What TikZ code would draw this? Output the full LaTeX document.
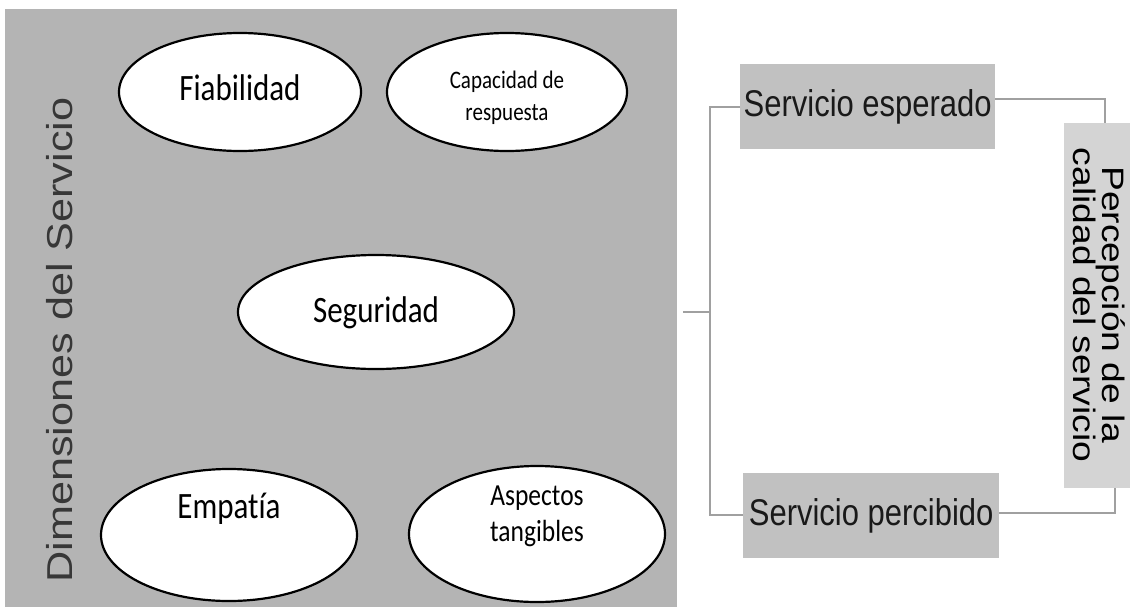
\documentclass[tikz,border=0pt]{standalone}
\usepackage{fontspec}
\setmainfont{Liberation Sans}
\newfontfamily\calfont[Ligatures=CommonOff]{Carlito}
\usetikzlibrary{shapes.geometric}
\definecolor{panelgray}{RGB}{180,180,180}
\definecolor{boxgray}{RGB}{193,193,193}
\definecolor{lightbox}{RGB}{212,212,212}
\definecolor{linegray}{RGB}{160,160,160}
\definecolor{dimtext}{RGB}{55,55,55}
\newcommand{\vstretch}[1]{\scalebox{1}[1.2]{#1}}
\newcommand{\hstretch}[1]{\scalebox{1.2}[1]{#1}}
\tikzset{
  dimell/.style={ellipse, draw=black, line width=2.2pt, fill=white, inner sep=0pt},
  elltext/.style={font=\calfont, align=center, inner sep=0pt},
  servbox/.style={rectangle, fill=boxgray, inner sep=0pt, font=\fontsize{31}{31}\selectfont, text=black!90},
  conn/.style={draw=linegray, line width=1.8pt},
}
\begin{document}
\begin{tikzpicture}[x=1pt,y=-1pt]
\useasboundingbox (0,0) rectangle (1130,611);
\fill[white] (0,0) rectangle (1130,611);
% panel
\node[fill=panelgray, minimum width=672pt, minimum height=598pt, inner sep=0pt, anchor=north west] (panel) at (5,9) {};
\node[rotate=90, text=dimtext, font=\fontsize{36}{36}\selectfont] (dimlabel) at (60,340) {\hstretch{Dimensiones del Servicio}};
% ellipses
\node[dimell, minimum width=242pt, minimum height=118pt] (fia) at (240,92) {};
\node[dimell, minimum width=240pt, minimum height=118pt] (cap) at (507,92) {};
\node[dimell, minimum width=276pt, minimum height=114pt] (seg) at (376,312) {};
\node[dimell, minimum width=256pt, minimum height=132pt] (emp) at (229,535) {};
\node[dimell, minimum width=256pt, minimum height=136pt] (asp) at (537,534) {};
\node[elltext] (fiat) at (240,88) {\fontsize{31}{31}\selectfont\vstretch{Fiabilidad}};
\node[elltext] (capt) at (507,98) {\vstretch{\fontsize{21}{27}\selectfont\begin{tabular}{@{}c@{}}Capacidad de\\respuesta\end{tabular}}};
\node[elltext] (segt) at (376,313) {\fontsize{31}{31}\selectfont\vstretch{Seguridad}};
\node[elltext] (empt) at (229,509) {\fontsize{31}{31}\selectfont\vstretch{Empatía}};
\node[elltext] (aspt) at (537,516) {\vstretch{\fontsize{25.5}{30}\selectfont\begin{tabular}{@{}c@{}}Aspectos\\tangibles\end{tabular}}};
% service boxes
\node[servbox, minimum width=255pt, minimum height=85pt, anchor=north west] (esp) at (740,64) {\vstretch{Servicio esperado}};
\node[servbox, minimum width=256pt, minimum height=85pt, anchor=north west] (per) at (743,473) {\vstretch{Servicio percibido}};
% perception box
\node[fill=lightbox, minimum width=80pt, minimum height=365pt, inner sep=0pt, anchor=north west] (calbox) at (1064,123) {};
\node[rotate=-90, font=\fontsize{31}{29}\selectfont, align=center] (caltext) at (1099,305) {\hstretch{Percepción de la}\\\hstretch{calidad del servicio}};
% connectors
\coordinate (mid) at (683,312);
\coordinate (brk) at (710,312);
\draw[conn] (mid) -- (brk);
\draw[conn] (esp.west |- 0,107) -| (brk) |- (per.west |- 0,515);
\draw[conn] (esp.east |- 0,99) -| (calbox.north -| 1105,0);
\draw[conn] (per.east |- 0,513) -| (calbox.south -| 1115,0);
\end{tikzpicture}
\end{document}
